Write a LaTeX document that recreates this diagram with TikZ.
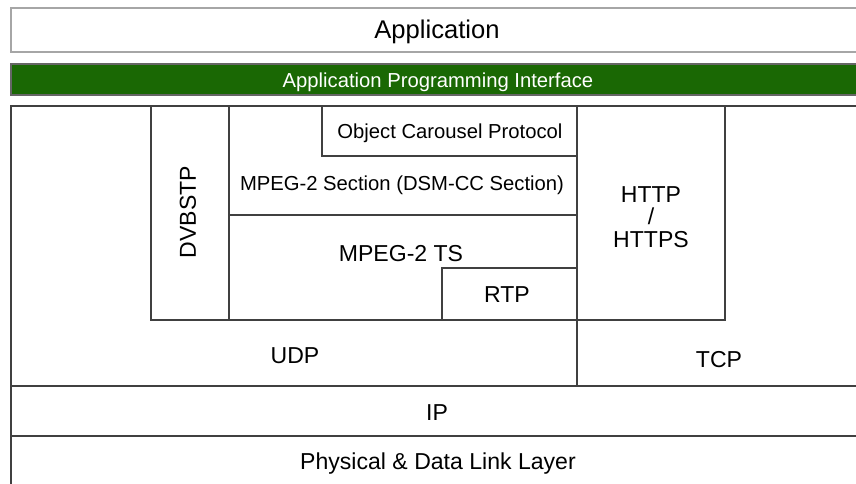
\documentclass[tikz,border=0pt]{standalone}
\usepackage{fontspec}
\setmainfont{Liberation Sans}
\definecolor{apigreen}{RGB}{26,104,4}
\tikzset{
	layer/.style={draw=black!75,line width=0.9pt},
	biglbl/.style={font=\fontsize{18.2}{20}\selectfont},
	lbl/.style={font=\fontsize{16.4}{18}\selectfont},
	smalllbl/.style={font=\fontsize{14.4}{16}\selectfont},
}
\begin{document}
\begin{tikzpicture}[x=0.25mm,y=-0.25mm]
	\clip (0,0) rectangle (856,483);
	% application and api
	\draw[layer,draw=black!35] (11,8) rectangle (870,52);
	\fill[apigreen] (11,64) rectangle (870,95);
	\draw[layer,draw=black!60] (11,64) rectangle (870,95);
	\node[biglbl] (app) at (437,32) {Application};
	\node[smalllbl,text=white] (api) at (438,82) {Application Programming Interface};
	% protocol stack
	\draw[layer] (870,106) -- (11,106) -- (11,490);
	\draw[layer] (151,106) rectangle (229,320);
	\draw[layer] (229,106) rectangle (577,320);
	\draw[layer] (322,106) rectangle (577,156);
	\draw[layer] (229,215) -- (577,215);
	\draw[layer] (442,268) rectangle (577,320);
	\draw[layer] (577,106) rectangle (725,320);
	\draw[layer] (577,320) -- (577,386);
	\draw[layer] (11,386) -- (870,386);
	\draw[layer] (11,436) -- (870,436);
	\node[smalllbl] (ocp) at (450,133) {Object Carousel Protocol};
	\node[smalllbl] (sect) at (402,185) {MPEG-2 Section (DSM-CC Section)};
	\node[lbl,rotate=90] (dvbstp) at (188,212) {DVBSTP};
	\node[lbl] (ts) at (401,254) {MPEG-2 TS};
	\node[lbl] (rtp) at (507,295) {RTP};
	\node[lbl,align=center] (http) at (651,217) {HTTP\\[-2pt]/\\[-2pt]HTTPS};
	\node[lbl] (udp) at (295,356) {UDP};
	\node[lbl] (tcp) at (719,360) {TCP};
	\node[lbl] (ip) at (437,413) {IP};
	\node[lbl] (phy) at (438,464) {Physical \& Data Link Layer};
\end{tikzpicture}
\end{document}
